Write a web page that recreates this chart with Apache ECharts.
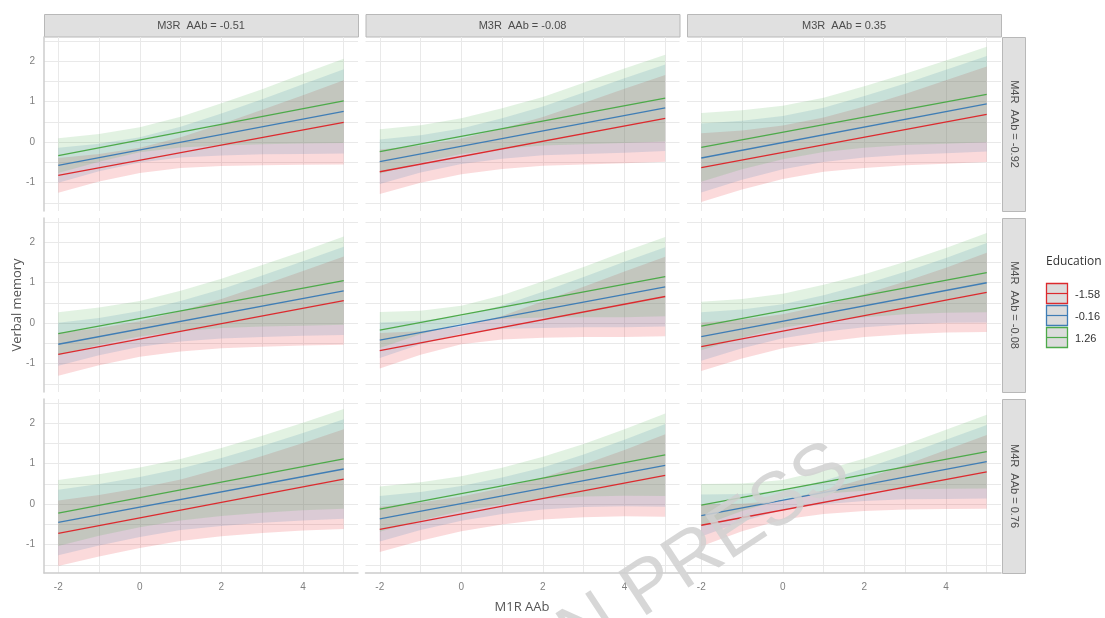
<!DOCTYPE html>
<html><head><meta charset="utf-8">
<script src="https://cdn.jsdelivr.net/npm/echarts@6/dist/echarts.min.js"></script>
<style>html,body{margin:0;padding:0;background:#fff}#c{width:1105px;height:618px}</style>
</head><body><div id="c"></div>
<script>
// ---- data ----
const xs = [-2, -1, 0, 1, 2, 3, 4, 5];          // x positions of the band samples
const xLine = [-2, 5];                            // fitted-line end points
const xTickLabels = [-2, 0, 2, 4];
const xGridLines = [-2, -1, 0, 1, 2, 3, 4, 5];
const yTickLabels = [-1, 0, 1, 2];
const yGridLines = [-1.5, -1, -0.5, 0, 0.5, 1, 1.5, 2, 2.5];
const colLabels = ['M3R  AAb = -0.51', 'M3R  AAb = -0.08', 'M3R  AAb = 0.35'];
const rowLabels = ['M4R  AAb = -0.92', 'M4R  AAb = -0.08', 'M4R  AAb = 0.76'];
const eduLevels = ['-1.58', '-0.16', '1.26'];

// each panel: [red, blue, green]
const fit_r1c1 = [[-0.82, 0.49], [-0.57, 0.76], [-0.33, 1.02]];
const lo_r1c1 = [[-1.25,-0.97,-0.76,-0.64,-0.59,-0.57,-0.56,-0.55],[-1.00,-0.72,-0.50,-0.38,-0.33,-0.30,-0.29,-0.28],[-0.76,-0.48,-0.25,-0.13,-0.08,-0.05,-0.03,-0.02]];
const hi_r1c1 = [[-0.39,-0.29,-0.14,0.12,0.45,0.80,1.16,1.53],[-0.14,-0.04,0.12,0.38,0.71,1.06,1.43,1.80],[0.10,0.20,0.37,0.63,0.96,1.31,1.69,2.06]];

const fit_r1c2 = [[-0.73, 0.59], [-0.48, 0.85], [-0.23, 1.09]];
const lo_r1c2 = [[-1.28,-1.00,-0.79,-0.66,-0.58,-0.55,-0.52,-0.48],[-1.03,-0.75,-0.54,-0.41,-0.32,-0.29,-0.26,-0.22],[-0.78,-0.50,-0.29,-0.16,-0.08,-0.05,-0.02,0.02]];
const hi_r1c2 = [[-0.18,-0.08,0.09,0.34,0.62,0.97,1.32,1.66],[0.07,0.17,0.34,0.59,0.88,1.23,1.58,1.92],[0.32,0.42,0.59,0.84,1.12,1.47,1.82,2.16]];

const fit_r1c3 = [[-0.63, 0.69], [-0.39, 0.95], [-0.13, 1.18]];
const lo_r1c3 = [[-1.48,-1.17,-0.91,-0.73,-0.64,-0.57,-0.53,-0.49],[-1.24,-0.93,-0.67,-0.49,-0.38,-0.31,-0.27,-0.23],[-0.98,-0.67,-0.42,-0.24,-0.14,-0.07,-0.04,0.00]];
const hi_r1c3 = [[0.22,0.29,0.41,0.61,0.88,1.19,1.53,1.87],[0.46,0.53,0.65,0.85,1.14,1.45,1.79,2.13],[0.72,0.79,0.90,1.10,1.38,1.69,2.02,2.36]];

const fit_r2c1 = [[-0.77, 0.56], [-0.52, 0.80], [-0.26, 1.05]];
const lo_r2c1 = [[-1.30,-1.04,-0.83,-0.70,-0.62,-0.58,-0.55,-0.53],[-1.05,-0.79,-0.58,-0.45,-0.38,-0.34,-0.31,-0.29],[-0.79,-0.53,-0.33,-0.20,-0.12,-0.08,-0.06,-0.04]];
const hi_r2c1 = [[-0.24,-0.12,0.05,0.30,0.60,0.94,1.29,1.65],[0.01,0.13,0.30,0.55,0.84,1.18,1.53,1.89],[0.27,0.39,0.55,0.80,1.10,1.44,1.78,2.14]];

const fit_r2c2 = [[-0.68, 0.66], [-0.42, 0.90], [-0.17, 1.15]];
const lo_r2c2 = [[-1.12,-0.78,-0.52,-0.40,-0.36,-0.34,-0.34,-0.32],[-0.86,-0.52,-0.26,-0.14,-0.12,-0.10,-0.10,-0.08],[-0.61,-0.27,-0.01,0.11,0.14,0.15,0.15,0.17]];
const hi_r2c2 = [[-0.24,-0.20,-0.08,0.18,0.54,0.90,1.28,1.64],[0.02,0.06,0.18,0.44,0.78,1.14,1.52,1.88],[0.28,0.31,0.43,0.69,1.04,1.39,1.77,2.13]];

const fit_r2c3 = [[-0.58, 0.76], [-0.33, 1.00], [-0.07, 1.25]];
const lo_r2c3 = [[-1.18,-0.87,-0.62,-0.46,-0.34,-0.27,-0.23,-0.22],[-0.93,-0.62,-0.37,-0.21,-0.10,-0.03,0.01,0.02],[-0.67,-0.36,-0.11,0.05,0.15,0.22,0.26,0.27]];
const hi_r2c3 = [[0.02,0.09,0.22,0.44,0.72,1.03,1.37,1.74],[0.27,0.34,0.47,0.69,0.96,1.27,1.61,1.98],[0.53,0.60,0.73,0.95,1.21,1.52,1.86,2.23]];

const fit_r3c1 = [[-0.72, 0.62], [-0.45, 0.87], [-0.22, 1.12]];
const lo_r3c1 = [[-1.53,-1.29,-1.08,-0.91,-0.79,-0.71,-0.65,-0.61],[-1.26,-1.02,-0.81,-0.64,-0.54,-0.46,-0.40,-0.36],[-1.03,-0.78,-0.57,-0.40,-0.29,-0.21,-0.15,-0.11]];
const hi_r3c1 = [[0.09,0.23,0.40,0.61,0.89,1.19,1.51,1.85],[0.36,0.50,0.67,0.88,1.14,1.44,1.76,2.10],[0.60,0.74,0.91,1.12,1.39,1.69,2.01,2.35]];

const fit_r3c2 = [[-0.62, 0.71], [-0.36, 0.96], [-0.12, 1.22]];
const lo_r3c2 = [[-1.18,-0.90,-0.67,-0.50,-0.38,-0.32,-0.30,-0.31],[-0.92,-0.64,-0.41,-0.24,-0.13,-0.07,-0.05,-0.06],[-0.68,-0.40,-0.17,0.00,0.13,0.19,0.21,0.20]];
const hi_r3c2 = [[-0.06,0.04,0.19,0.40,0.66,0.98,1.34,1.73],[0.20,0.30,0.45,0.66,0.91,1.23,1.59,1.98],[0.44,0.54,0.69,0.90,1.17,1.49,1.85,2.24]];

const fit_r3c3 = [[-0.52, 0.80], [-0.28, 1.05], [-0.02, 1.30]];
const lo_r3c3 = [[-1.04,-0.67,-0.38,-0.24,-0.17,-0.13,-0.12,-0.11],[-0.80,-0.43,-0.14,0.00,0.08,0.12,0.13,0.14],[-0.54,-0.17,0.12,0.26,0.33,0.37,0.38,0.39]];
const hi_r3c3 = [[0.00,0.01,0.10,0.34,0.63,0.97,1.34,1.71],[0.24,0.25,0.34,0.58,0.88,1.22,1.59,1.96],[0.50,0.51,0.60,0.84,1.13,1.47,1.84,2.21]];

// ---- build ----
const panels = [
  [fit_r1c1, lo_r1c1, hi_r1c1], [fit_r1c2, lo_r1c2, hi_r1c2], [fit_r1c3, lo_r1c3, hi_r1c3],
  [fit_r2c1, lo_r2c1, hi_r2c1], [fit_r2c2, lo_r2c2, hi_r2c2], [fit_r2c3, lo_r2c3, hi_r2c3],
  [fit_r3c1, lo_r3c1, hi_r3c1], [fit_r3c2, lo_r3c2, hi_r3c2], [fit_r3c3, lo_r3c3, hi_r3c3]
];
const lineColors = ['#DC2A2E', '#3F7DB5', '#4DAA4A'];
const bandFills = ['rgba(228,26,28,0.16)', 'rgba(55,126,184,0.16)', 'rgba(77,175,74,0.16)'];
const colLeft = [44, 365.5, 687], rowTop = [37, 218, 399], PW = 314, PH = 174;
const tickFont = 'Liberation Sans, Arial, sans-serif';
const titleFont = 'Open Sans, Liberation Sans, sans-serif';

const grids = [], xAxes = [], yAxes = [], series = [];
function makeBand(lo, hi, fill) {
  return function (params, api) {
    if (params.dataIndex !== 0) return null;
    const pts = [];
    for (let k = 0; k < xs.length; k++) pts.push(api.coord([xs[k], hi[k]]));
    for (let k = xs.length - 1; k >= 0; k--) pts.push(api.coord([xs[k], lo[k]]));
    return { type: 'polygon', shape: { points: pts }, style: { fill: fill } };
  };
}
panels.forEach(function (p, i) {
  const r = Math.floor(i / 3), c = i % 3;
  const fit = p[0], lo = p[1], hi = p[2];
  grids.push({ left: colLeft[c], top: rowTop[r], width: PW, height: PH, containLabel: false, outerBoundsMode: 'none' });
  xAxes.push({
    type: 'value', gridIndex: i, min: -2.35, max: 5.35,
    axisLine: { show: r === 2, onZero: false, lineStyle: { color: '#cccccc', width: 1.5 } },
    axisTick: { show: false }, splitLine: { show: false },
    axisLabel: { show: r === 2, customValues: xTickLabels, color: '#808080', fontSize: 10, fontFamily: tickFont, margin: 9 }
  });
  yAxes.push({
    type: 'value', gridIndex: i, min: -1.7, max: 2.6,
    axisLine: { show: c === 0, onZero: false, lineStyle: { color: '#cccccc', width: 1.5 } },
    axisTick: { show: false }, splitLine: { show: false },
    axisLabel: { show: c === 0, customValues: yTickLabels, color: '#808080', fontSize: 10, fontFamily: tickFont, margin: 9 }
  });
  series.push({
    type: 'line', xAxisIndex: i, yAxisIndex: i, data: [], silent: true, z: 0,
    markLine: {
      silent: true, z: 0, symbol: ['none', 'none'], label: { show: false },
      emphasis: { disabled: true },
      lineStyle: { color: '#e9e9e9', width: 1, type: 'solid' },
      data: xGridLines.map(function (v) { return { xAxis: v }; })
        .concat(yGridLines.map(function (v) { return { yAxis: v }; }))
    }
  });
  for (let s = 0; s < 3; s++) {
    series.push({
      type: 'custom', xAxisIndex: i, yAxisIndex: i, z: 2, silent: true,
      data: xs.map(function (x, k) { return [x, lo[s][k], hi[s][k]]; }),
      encode: { x: 0, y: [1, 2] },
      renderItem: makeBand(lo[s], hi[s], bandFills[s])
    });
  }
  for (let s = 0; s < 3; s++) {
    series.push({
      type: 'line', xAxisIndex: i, yAxisIndex: i, z: 3, silent: true, symbol: 'none',
      data: xLine.map(function (x, k) { return [x, fit[s][k]]; }),
      lineStyle: { color: lineColors[s], width: 1.3 }
    });
  }
});

const elements = [];
colLabels.forEach(function (t, c) {
  elements.push({ type: 'rect', shape: { x: colLeft[c] + 0.5, y: 14.5, width: PW, height: 22.5 },
    style: { fill: '#e0e0e0', stroke: '#b8b8b8', lineWidth: 1 } });
  elements.push({ type: 'text', x: colLeft[c] + PW / 2, y: 26,
    style: { text: t, fontSize: 11, fontFamily: tickFont, fill: '#4d4d4d', align: 'center', verticalAlign: 'middle' } });
});
rowLabels.forEach(function (t, r) {
  elements.push({ type: 'rect', shape: { x: 1002.5, y: rowTop[r] + 0.5, width: 23, height: PH },
    style: { fill: '#e0e0e0', stroke: '#b8b8b8', lineWidth: 1 } });
  elements.push({ type: 'text', x: 1014, y: rowTop[r] + PH / 2, rotation: -Math.PI / 2,
    style: { text: t, fontSize: 11, fontFamily: tickFont, fill: '#4d4d4d', align: 'center', verticalAlign: 'middle' } });
});
elements.push({ type: 'text', x: 17, y: 305, rotation: Math.PI / 2,
  style: { text: 'Verbal memory', fontSize: 13, fontFamily: titleFont, fill: '#555555', align: 'center', verticalAlign: 'middle' } });
elements.push({ type: 'text', x: 522, y: 607,
  style: { text: 'M1R AAb', fontSize: 13, fontFamily: titleFont, fill: '#555555', align: 'center', verticalAlign: 'middle' } });
elements.push({ type: 'text', x: 1046, y: 262,
  style: { text: 'Education', fontSize: 12, fontFamily: titleFont, fill: '#333333', align: 'left', verticalAlign: 'middle' } });
const keyTop = [283.5, 305.5, 327.5];
eduLevels.forEach(function (t, s) {
  const y = keyTop[s];
  elements.push({ type: 'rect', shape: { x: 1046.5, y: y, width: 21, height: 20 },
    style: { fill: '#dcdcdc', stroke: lineColors[s], lineWidth: 1.3 } });
  elements.push({ type: 'line', shape: { x1: 1047, y1: y + 10, x2: 1067, y2: y + 10 },
    style: { stroke: lineColors[s], lineWidth: 1.2 } });
  elements.push({ type: 'text', x: 1075, y: y + 11,
    style: { text: t, fontSize: 11, fontFamily: tickFont, fill: '#333333', align: 'left', verticalAlign: 'middle' } });
});
elements.push({ type: 'text', x: 550, y: 654, rotation: 0.583, z: 100,
  style: { text: 'IN PRESS', fontSize: 75, fontFamily: tickFont, fill: 'rgba(208,208,208,0.85)', align: 'left', verticalAlign: 'middle' } });

const chart = echarts.init(document.getElementById('c'), null, { renderer: 'canvas' });
chart.setOption({
  animation: false,
  backgroundColor: '#ffffff',
  grid: grids, xAxis: xAxes, yAxis: yAxes, series: series,
  graphic: { elements: elements }
});
</script></body></html>
